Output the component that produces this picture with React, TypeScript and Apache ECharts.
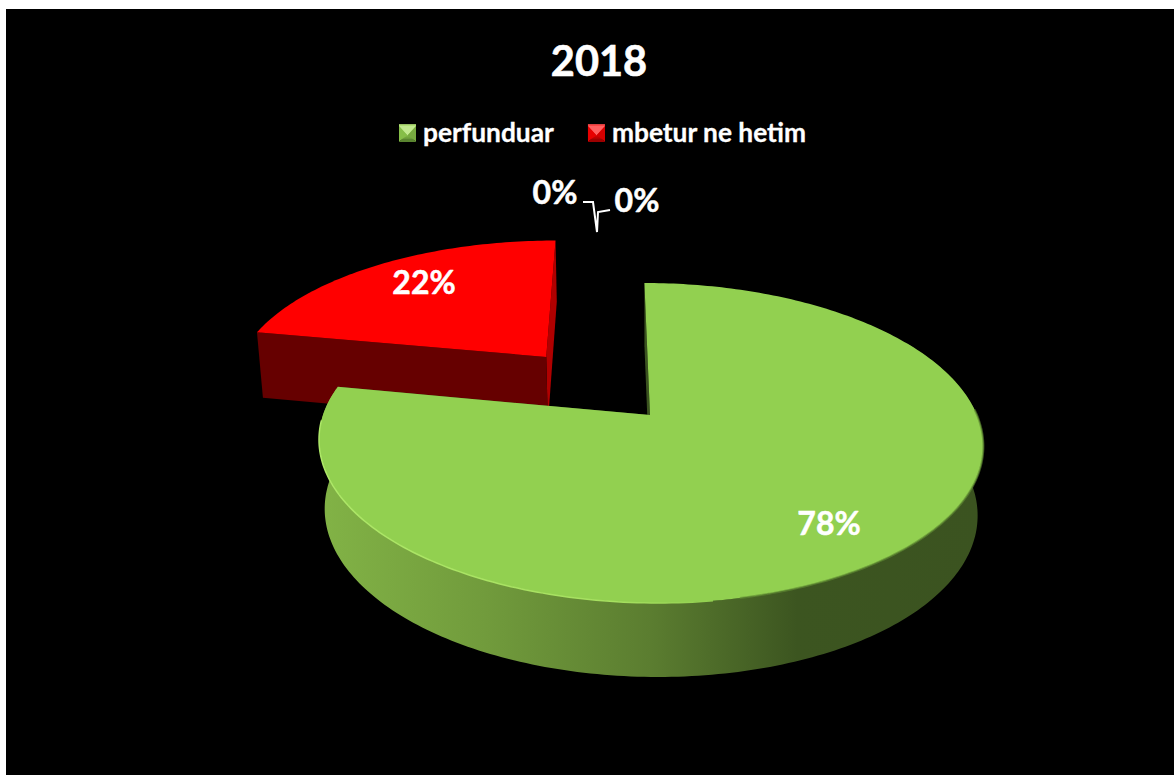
import React, { useEffect, useRef } from "react";
import * as echarts from "echarts";

const titleText = "2018";
const categories = ["perfunduar", "mbetur ne hetim", " ", "  "];
const values = [78, 22, 0, 0];
const percentLabels = ["78%", "22%", "0%", "0%"];

// presentation constants (not data)
const explode = [0, 0.52, 0, 0];
const labelAnchors = [[829, 522], [424, 281], [555, 191], [637, 199]];
const OFFSET_X = 6, OFFSET_Y = 9;
const CX = 650 - OFFSET_X, CY = 415 - OFFSET_Y;
const K = 0.175, BX = 327, AY = 155.1, MX = 0.017, MY = 0.04, CH = 71.5, SHEAR = 6.6;
const START = 0;
const FONT = "Lato, 'Open Sans', sans-serif";

const slices = [
  { top: "#92d050", faceA: "#3b5320", faceB: "#3b5320",
    rim: { type: "linear", x: 0, y: 0, x2: 1, y2: 0, colorStops: [
      { offset: 0, color: "#82b346" }, { offset: 0.25, color: "#719b3c" },
      { offset: 0.5, color: "#5b7d30" }, { offset: 0.72, color: "#3c5520" }, { offset: 1, color: "#3b5320" } ] } },
  { top: "#ff0000", faceA: "#660000", faceB: "#b00000", rim: "#660000" },
];

const legendFills = [
  { type: "linear", x: 0, y: 0, x2: 0, y2: 1, colorStops: [
    { offset: 0, color: "#b4e078" }, { offset: 0.55, color: "#92d050" }, { offset: 1, color: "#5f8a32" } ] },
  { type: "linear", x: 0, y: 0, x2: 0, y2: 1, colorStops: [
    { offset: 0, color: "#ff5050" }, { offset: 0.55, color: "#f00000" }, { offset: 1, color: "#a00000" } ] },
  "#000", "#000",
];

// bevel decoration of the two legend swatches: [left, top, facets top/left/right/bottom]
const swatches: [number, number, string[]][] = [
  [399, 126, ["#c2e98f", "#86be48", "#78a940", "#5a8530"]],
  [588, 126, ["#ff6060", "#e80000", "#d40000", "#9c0000"]],
];

const total = values.reduce((a, b) => a + b, 0);

function project(u: number, v: number, h: number): number[] {
  const wx = 1 / (1 - K * v + MX * h);
  const wy = 1 / (1 - K * v + MY * h);
  return [CX + (BX * u + SHEAR * v) * wx, CY + (AY * v + CH * h) * wy];
}

function renderSlice(index: number, api: any) {
  const value = api.value(0) as number;
  const children: any[] = [];
  if (value > 0) {
    const before = values.slice(0, index).reduce((a, b) => a + b, 0);
    const a0 = START + (before / total) * 360;
    const a1 = a0 + (value / total) * 360;
    const mid = ((a0 + a1) / 2) * Math.PI / 180;
    const ex = Math.sin(mid) * explode[index];
    const ey = -Math.cos(mid) * explode[index];
    const pt = (deg: number, h: number, r = 1) => {
      const t = deg * Math.PI / 180;
      return project(ex + r * Math.sin(t), ey - r * Math.cos(t), h);
    };
    const arc = (d0: number, d1: number, h: number) => {
      const pts: number[][] = [];
      const n = Math.max(2, Math.ceil(Math.abs(d1 - d0)));
      for (let i = 0; i <= n; i++) pts.push(pt(d0 + ((d1 - d0) * i) / n, h));
      return pts;
    };
    const s = slices[index];
    // cut faces
    children.push({ type: "polygon", shape: { points: [pt(a1, 0), pt(a1, 0, 0), pt(a1, 1, 0), pt(a1, 1)] }, style: { fill: s.faceB } });
    children.push({ type: "polygon", shape: { points: [pt(a0, 0), pt(a0, 0, 0), pt(a0, 1, 0), pt(a0, 1)] }, style: { fill: s.faceA } });
    // outer rim (front part only)
    const r0 = Math.max(a0, 60), r1 = Math.min(a1, 280);
    const hasRim = r1 - r0 > 2;
    if (hasRim) {
      children.push({ type: "polygon", shape: { points: [...arc(r0, r1, 0), ...arc(r1, r0, 1)] }, style: { fill: s.rim } });
    }
    // top face
    children.push({ type: "polygon", shape: { points: [pt(a0, 0, 0), ...arc(a0, a1, 0)] }, style: { fill: s.top } });
    if (hasRim) {
      // soft dark edge on the right, light bevel on the left
      children.push({ type: "polyline", shape: { points: arc(88, 168, 0) }, style: { fill: "none", lineWidth: 2, stroke: "rgba(95,138,50,0.65)" } });
      children.push({ type: "polyline", shape: { points: arc(172, 268, 0) }, style: { fill: "none", lineWidth: 1.5, stroke: {
        type: "linear", x: 0, y: 0, x2: 1, y2: 0, colorStops: [
          { offset: 0, color: "#aee868" }, { offset: 0.75, color: "#a6e060" }, { offset: 1, color: "#92d050" } ] } } });
    }
  }
  return { type: "group", children };
}

export default function App() {
  const ref = useRef<HTMLDivElement>(null);
  useEffect(() => {
    const chart = echarts.init(ref.current!, undefined, { renderer: "svg" });
    const series: any[] = categories.map((name, index) => ({
      type: "custom",
      name,
      coordinateSystem: "none",
      silent: true,
      z: index === 1 ? 2 : index === 0 ? 3 : 4,
      itemStyle: { color: legendFills[index] },
      data: [[values[index]]],
      renderItem: (_p: any, api: any) => renderSlice(index, api),
    }));
    const facets = swatches.flatMap(([l, t, cols]) => {
      const x = l - OFFSET_X, y = t - OFFSET_Y, W = 17, H = 16, c = [x + W / 2, y + H * 0.6];
      const polys = [
        [[x, y], [x + W, y], c],
        [[x, y], c, [x + 3, y + H - 3], [x, y + H]],
        [[x + W, y], c, [x + W - 3, y + H - 3], [x + W, y + H]],
        [[x, y + H], [x + 3, y + H - 3], [x + W - 3, y + H - 3], [x + W, y + H]],
      ];
      return polys.map((points, i) => ({ type: "polygon", z: 10, shape: { points }, style: { fill: cols[i] } }));
    });
    chart.setOption({
      animation: false,
      backgroundColor: "#000000",
      title: {
        text: titleText,
        left: 594 - OFFSET_X,
        top: 34 - OFFSET_Y,
        textAlign: "center",
        textStyle: { color: "#fff", fontFamily: FONT, fontWeight: "bold", fontSize: 41.5, textBorderColor: "#fff", textBorderWidth: 0.6 },
      },
      legend: {
        data: categories.slice(0, 2),
        left: 399 - OFFSET_X,
        top: 119 - OFFSET_Y,
        padding: 0,
        icon: "rect",
        itemWidth: 17,
        itemHeight: 16,
        itemGap: 34,
        selectedMode: false,
        textStyle: { color: "#fff", fontFamily: FONT, fontWeight: "bold", fontSize: 26.3, padding: [0, 0, 0, 2], textBorderColor: "#fff", textBorderWidth: 0.3 },
      },
      graphic: [
        ...facets,
        ...percentLabels.map((text, i) => ({
          type: "text",
          z: 10,
          x: labelAnchors[i][0] - OFFSET_X,
          y: labelAnchors[i][1] - OFFSET_Y,
          style: { text, fill: "#fff", font: `bold 32px ${FONT}`, align: "center", verticalAlign: "middle", stroke: "#fff", lineWidth: 0.5 },
        })),
        { type: "polyline", z: 10, shape: { points: [[583 - OFFSET_X, 202 - OFFSET_Y], [593 - OFFSET_X, 202 - OFFSET_Y], [597 - OFFSET_X, 232 - OFFSET_Y], [598 - OFFSET_X, 212 - OFFSET_Y], [610 - OFFSET_X, 210 - OFFSET_Y]] }, style: { fill: "none", stroke: "#fff", lineWidth: 2 } },
      ],
      series,
    });
    return () => chart.dispose();
  }, []);
  return (
    <div ref={ref} style={{ position: "fixed", left: OFFSET_X, top: OFFSET_Y, width: 1174 - OFFSET_X, height: 775 - OFFSET_Y }} />
  );
}
